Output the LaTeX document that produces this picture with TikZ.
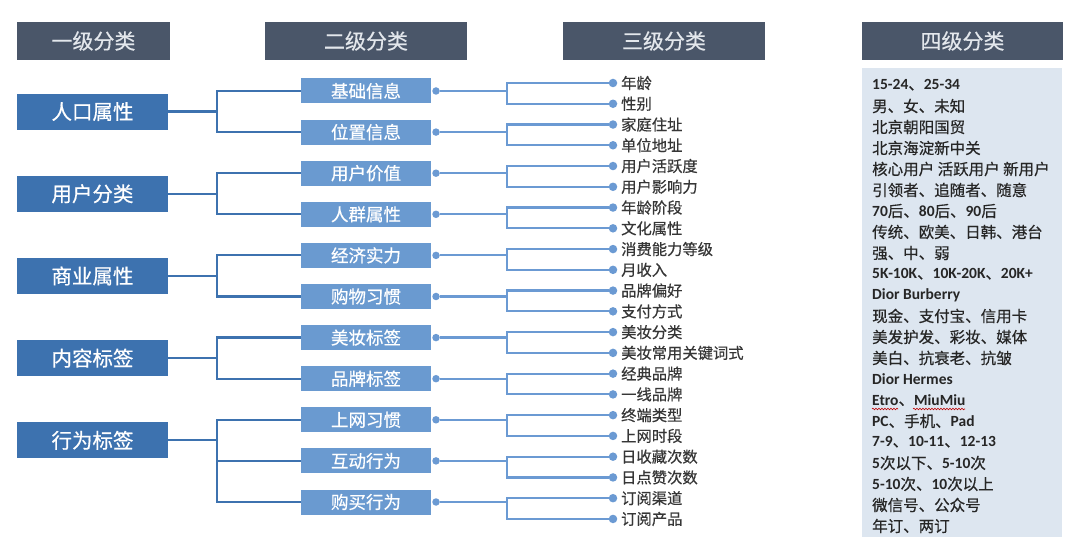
\documentclass[tikz,border=0pt]{standalone}
\usepackage{fontspec}
\setmainfont{Noto Sans CJK SC}[FakeBold=0.5]
\newfontfamily\enf{Carlito}
\usetikzlibrary{decorations.pathmorphing}
\definecolor{hdr}{HTML}{4A5669}
\definecolor{hdrtext}{HTML}{E3E7EC}
\definecolor{lone}{HTML}{3D72AF}
\definecolor{ltwo}{HTML}{6A9AD0}
\definecolor{ltwoline}{HTML}{6B9AD3}
\definecolor{panel}{HTML}{DDE6F0}
\definecolor{tgray}{HTML}{363636}
\definecolor{tdark}{HTML}{262626}
\newcommand\latn[1]{{\enf\bfseries #1}}
\begin{document}
\begin{tikzpicture}[x=1pt,y=-1pt,
  hdrbox/.style={fill=hdr, text=hdrtext, minimum height=38pt, inner sep=0pt, font=\fontsize{21}{24}\selectfont},
  lonebox/.style={fill=lone, text=white, minimum width=151pt, minimum height=36pt, inner sep=0pt, font=\fontsize{20.5}{24}\selectfont},
  ltwobox/.style={fill=ltwo, text=white, minimum width=130pt, minimum height=25pt, inner sep=0pt, font=\fontsize{17.5}{20}\selectfont},
  bigdot/.style={circle, fill=ltwoline, minimum size=8.5pt, inner sep=0pt},
  smalldot/.style={circle, fill=ltwoline, minimum size=7.5pt, inner sep=0pt},
  lonewire/.style={draw=lone, line width=2.2pt},
  ltwowire/.style={draw=ltwoline, line width=2.2pt},
  tthree/.style={anchor=west, inner sep=0pt, text=tgray, font=\fontsize{15.3}{18}\selectfont},
  tfour/.style={anchor=west, inner sep=0pt, text=tdark, font=\fontsize{15.5}{18}\selectfont}]

\useasboundingbox (0,0) rectangle (1080,553);
\fill[white] (0,0) rectangle (1080,553);

% headers
\node[hdrbox, minimum width=153pt] (h1) at (93.5,41) {一级分类};
\node[hdrbox, minimum width=202pt] (h2) at (366,41) {二级分类};
\node[hdrbox, minimum width=202pt] (h3) at (664,41) {三级分类};
\node[hdrbox, minimum width=201pt] (h4) at (962.5,41) {四级分类};

% level 4 panel
\node[fill=panel, minimum width=200pt, minimum height=469pt, inner sep=0pt] (panel) at (962,302.5) {};

% level 1
\foreach \t [count=\k from 0] in {人口属性,用户分类,商业属性,内容标签}
  \node[lonebox] (p\k) at (92.5, {91+41.1*(2*\k+0.5)}) {\t};
\node[lonebox] (p4) at (92.5, {91+41.1*8.5}) {行为标签};

% level 2
\foreach \t [count=\i from 0] in {基础信息,位置信息,用户价值,人群属性,经济实力,购物习惯,美妆标签,品牌标签,上网习惯,互动行为,购买行为}
  \node[ltwobox] (b\i) at (366, {91+41.1*\i}) {\t};

% level 3
\foreach \t [count=\j from 0] in {年龄,性别,家庭住址,单位地址,用户活跃度,用户影响力,年龄阶段,文化属性,消费能力等级,月收入,品牌偏好,支付方式,美妆分类,美妆常用关键词式,经典品牌,一线品牌,终端类型,上网时段,日收藏次数,日点赞次数,订阅渠道,订阅产品}
{
  \node[bigdot] (d\j) at (613, {83+20.76*\j}) {};
  \node[tthree] (t\j) at (621, {83+20.76*\j}) {\t};
}

% level 1 -> level 2
\foreach \k in {0,1,2,3}
{
  \pgfmathtruncatemacro\ba{2*\k}
  \pgfmathtruncatemacro\bb{2*\k+1}
  \draw[lonewire] (p\k.east) -- ++(49,0) |- (b\ba.west);
  \draw[lonewire] (p\k.east) -- ++(49,0) |- (b\bb.west);
}
\draw[lonewire] (p4.east) -- ++(49,0) |- (b8.west);
\draw[lonewire] (p4.east) -- ++(49,0) |- (b9.west);
\draw[lonewire] (p4.east) -- ++(49,0) |- (b10.west);

% level 2 -> level 3
\foreach \i in {0,...,10}
{
  \pgfmathtruncatemacro\da{2*\i}
  \pgfmathtruncatemacro\db{2*\i+1}
  \node[smalldot] (r\i) at (436, {91+41.1*\i}) {};
  \draw[ltwowire] (r\i) -- ++(71,0) |- (d\da);
  \draw[ltwowire] (r\i) -- ++(71,0) |- (d\db);
}

% level 4 texts
\foreach \t [count=\k from 0] in {
  {\latn{15-24}、\latn{25-34}},
  {男、女、未知},
  {北京朝阳国贸},
  {北京海淀新中关},
  {核心用户 活跃用户 新用户},
  {引领者、追随者、随意},
  {\latn{70}后、\latn{80}后、\latn{90}后},
  {传统、欧美、日韩、港台},
  {强、中、弱},
  {\latn{5K-10K}、\latn{10K-20K}、\latn{20K+}},
  {\latn{Dior Burberry}},
  {现金、支付宝、信用卡},
  {美发护发、彩妆、媒体},
  {美白、抗衰老、抗皱},
  {\latn{Dior Hermes}},
  {\latn{Etro}、\latn{MiuMiu}},
  {\latn{PC}、手机、\latn{Pad}},
  {\latn{7-9}、\latn{10-11}、\latn{12-13}},
  {\latn{5}次以下、\latn{5-10}次},
  {\latn{5-10}次、\latn{10}次以上},
  {微信号、公众号},
  {年订、两订}}
  \node[tfour] (f\k) at (872, {85+21*\k}) {\t};

% spell-check underline
\draw[red!75!black, line width=0.6pt, decorate, decoration={snake, amplitude=0.8pt, segment length=3pt}] (872,409) -- (898,409);
\draw[red!75!black, line width=0.6pt, decorate, decoration={snake, amplitude=0.8pt, segment length=3pt}] (913,409) -- (965,409);
\end{tikzpicture}
\end{document}
